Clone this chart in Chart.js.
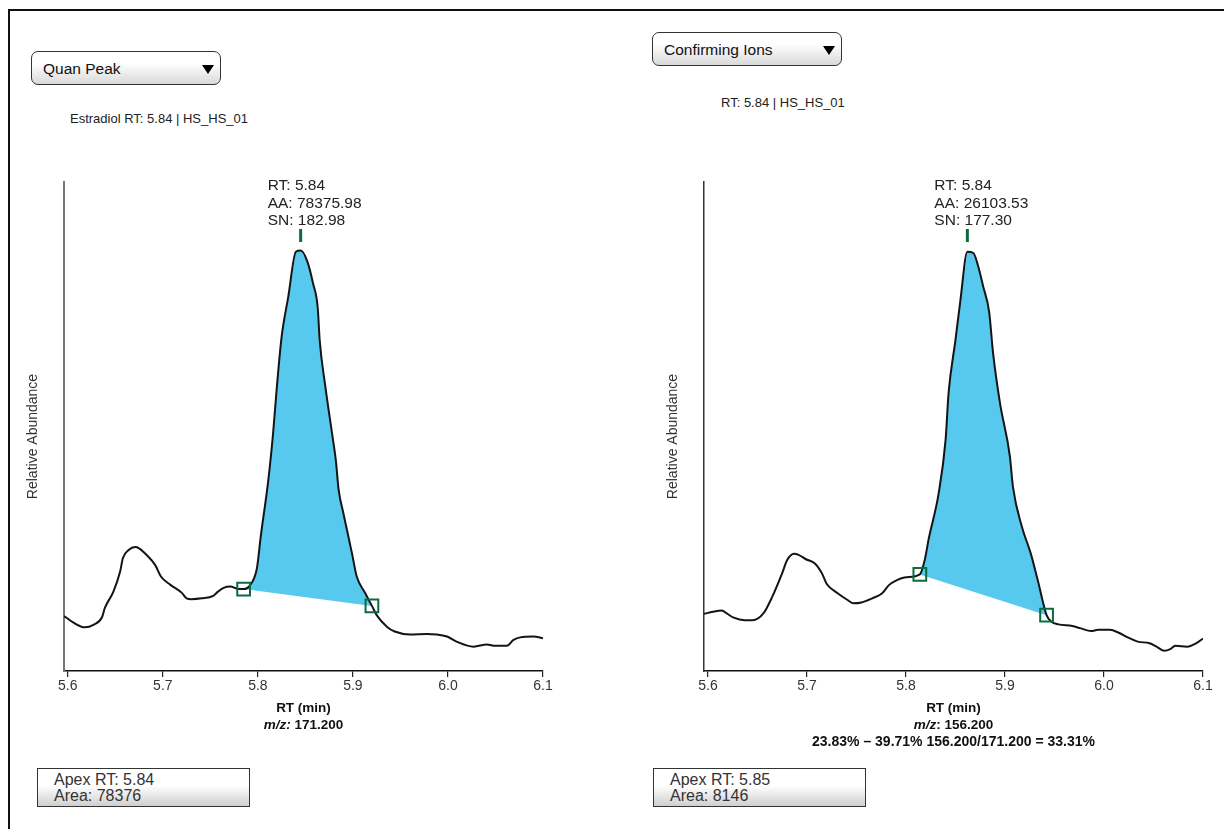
<!DOCTYPE html>
<html>
<head>
<meta charset="utf-8">
<script src="https://cdn.jsdelivr.net/npm/chart.js@4"></script>
<style>
body{margin:0;width:1224px;height:829px;position:relative;overflow:hidden;background:#fff;font-family:"Liberation Sans",Arial,sans-serif;color:#222}
#frame{position:absolute;left:8px;top:9px;right:-4px;bottom:-4px;border-left:2px solid #111;border-top:2px solid #111}
.drop{position:absolute;height:34px;width:190px;border:1px solid #333;border-radius:7px;background:linear-gradient(#fff 35%,#d9d9d9);font-size:15.5px;line-height:33px;padding-left:11px;box-sizing:border-box;color:#111}
.drop .arr{position:absolute;right:6px;top:13px;width:0;height:0;border-left:6px solid transparent;border-right:6px solid transparent;border-top:9px solid #000}
.sub{position:absolute;font-size:13px;color:#222}
.box{position:absolute;width:213px;height:39px;border:1.5px solid #333;background:linear-gradient(#fff 45%,#cfcfcf);box-sizing:border-box;font-size:16px;line-height:16px;padding:2.5px 0 0 16px;color:#333}
.xt{position:absolute;text-align:center;font-size:13.5px;font-weight:bold;line-height:16.5px;color:#111}
.cv{position:absolute;top:150px;height:560px}
</style>
</head>
<body>
<div id="frame"></div>

<div class="drop" style="left:31px;top:51px">Quan Peak<span class="arr"></span></div>
<div class="sub" style="left:70px;top:111px">Estradiol RT: 5.84 | HS_HS_01</div>
<div class="drop" style="left:652px;top:32px">Confirming Ions<span class="arr"></span></div>
<div class="sub" style="left:721px;top:95px">RT: 5.84 | HS_HS_01</div>

<div class="cv" style="left:0;width:600px"><canvas id="quan"></canvas></div>
<div class="cv" style="left:640px;width:584px"><canvas id="conf"></canvas></div>

<div class="xt" style="left:64px;width:479px;top:700px">RT (min)<br><i>m/z:</i> 171.200</div>
<div class="xt" style="left:704px;width:499px;top:700px">RT (min)<br><i>m/z</i>: 156.200<br><span style="font-size:14px">23.83% – 39.71% 156.200/171.200 = 33.31%</span></div>

<div class="box" style="left:37px;top:768px">Apex RT: 5.84<br>Area: 78376</div>
<div class="box" style="left:653px;top:768px">Apex RT: 5.85<br>Area: 8146</div>

<script>
var F = '"Liberation Sans", Arial, sans-serif';
var ticksRT = [5.6, 5.7, 5.8, 5.9, 6.0, 6.1];

// Quan peak, m/z 171.200
var quanRT = [5.596, 5.606, 5.618, 5.627, 5.636, 5.639, 5.648, 5.655, 5.658, 5.664, 5.671, 5.675, 5.683, 5.692, 5.698,
  5.708, 5.720, 5.725, 5.730, 5.741, 5.753, 5.758, 5.764, 5.771, 5.778, 5.785, 5.792, 5.799, 5.803, 5.811, 5.816,
  5.820, 5.825, 5.832, 5.840, 5.845, 5.852, 5.858, 5.863, 5.865, 5.871, 5.878, 5.882, 5.885, 5.890, 5.896, 5.899,
  5.904, 5.913, 5.920, 5.925, 5.936, 5.944, 5.960, 5.978, 5.988, 5.999, 6.009, 6.027, 6.041, 6.050, 6.062, 6.069,
  6.076, 6.090, 6.100];
var quanAb = [13.1, 11.5, 10.4, 11.0, 12.8, 15.0, 18.9, 23.6, 26.9, 28.8, 29.5, 29.2, 27.6, 25.2, 22.5,
  20.5, 18.6, 17.3, 17.1, 17.3, 17.9, 18.9, 19.8, 20.1, 19.6, 19.5, 20.5, 24.5, 32.0, 45.5, 56.6,
  67.7, 79.6, 89.1, 99.8, 100.1, 97.5, 92.3, 86.4, 78.8, 67.7, 56.6, 50.2, 43.1, 37.5, 31.2, 28.0,
  22.5, 18.5, 15.5, 13.3, 10.5, 9.4, 8.7, 8.8, 8.7, 8.2, 7.0, 5.8, 6.3, 6.0, 6.0, 7.4,
  8.0, 8.2, 7.8];
var quanStart = 5.785, quanEnd = 5.920;
var quanLabel = ['RT: 5.84', 'AA: 78375.98', 'SN: 182.98'];

// Confirming ion, m/z 156.200
var confRT = [5.596, 5.605, 5.614, 5.619, 5.626, 5.637, 5.645, 5.656, 5.665, 5.675, 5.680, 5.687, 5.692, 5.699,
  5.708, 5.715, 5.720, 5.731, 5.741, 5.747, 5.755, 5.766, 5.776, 5.783, 5.788, 5.800, 5.814, 5.819, 5.823,
  5.833, 5.840, 5.843, 5.850, 5.855, 5.862, 5.868, 5.873, 5.878, 5.884, 5.888, 5.895, 5.905, 5.908, 5.917,
  5.926, 5.933, 5.942, 5.947, 5.954, 5.968, 5.976, 5.987, 5.994, 6.006, 6.015, 6.024, 6.034, 6.046, 6.053,
  6.061, 6.067, 6.072, 6.084, 6.093, 6.100];
var confAb = [13.6, 14.1, 14.4, 13.7, 12.7, 12.1, 12.1, 13.7, 17.7, 23.3, 26.4, 27.9, 27.6, 26.6,
  25.6, 23.3, 20.7, 18.5, 16.9, 16.1, 16.3, 17.3, 18.5, 20.5, 21.3, 22.3, 23.0, 26.5, 31.5,
  42.3, 55.0, 66.1, 78.8, 88.3, 99.8, 99.5, 96.3, 91.5, 85.5, 75.6, 63.7, 51.0, 43.9, 34.4,
  28.0, 21.7, 13.3, 11.7, 11.1, 10.7, 10.2, 9.5, 9.8, 9.8, 9.1, 8.0, 7.0, 6.6, 5.8,
  4.8, 5.2, 6.0, 5.8, 6.6, 7.7];
var confStart = 5.814, confEnd = 5.942;
var confLabel = ['RT: 5.84', 'AA: 26103.53', 'SN: 177.30'];

function nearest(arr, v) {
  var best = 0;
  arr.forEach(function (a, i) { if (Math.abs(a - v) < Math.abs(arr[best] - v)) best = i; });
  return best;
}

function makeChart(id, rt, ab, startRT, endRT, label, yColor, yWidth, padRight) {
  var pts = rt.map(function (x, i) { return {x: x, y: ab[i]}; });
  var i0 = nearest(rt, startRT), i1 = nearest(rt, endRT);
  var area = pts.slice(i0, i1 + 1).concat([pts[i0]]);
  var apex = pts.reduce(function (a, p) { return p.y > a.y ? p : a; });

  var peakLabel = {
    id: 'peakLabel',
    afterDatasetsDraw: function (chart) {
      var c = chart.ctx, ca = chart.chartArea, top = ca.top;
      var px = chart.scales.x.getPixelForValue(apex.x);
      c.save();
      c.font = '15.5px ' + F;
      c.fillStyle = '#222';
      c.textBaseline = 'middle';
      label.forEach(function (t, i) { c.fillText(t, px - 33, top + 4 + i * 17.5); });
      c.fillStyle = '#0b6b3f';
      c.fillRect(px - 1.5, top + 47, 3, 13);
      // y axis title
      c.translate(ca.left - 31, (ca.top + ca.bottom) / 2 + 10);
      c.rotate(-Math.PI / 2);
      c.font = '14px ' + F;
      c.fillStyle = '#333';
      c.textAlign = 'center';
      c.fillText('Relative Abundance', 0, 0);
      c.restore();
    }
  };

  return new Chart(document.getElementById(id), {
    type: 'scatter',
    data: {
      datasets: [
        {data: pts, showLine: true, borderColor: '#141414', borderWidth: 2, pointRadius: 0,
         cubicInterpolationMode: 'monotone', order: 2},
        {data: area, showLine: true, fill: 'shape', backgroundColor: '#58c9ee', borderWidth: 0,
         borderColor: 'rgba(0,0,0,0)', pointRadius: 0, tension: 0, order: 3},
        {data: [pts[i0], pts[i1]], pointStyle: 'rect', pointRadius: 9, borderWidth: 2,
         borderColor: '#0b6b3f', backgroundColor: 'rgba(0,0,0,0)', order: 1}
      ]
    },
    options: {
      responsive: true,
      maintainAspectRatio: false,
      animation: false,
      events: [],
      layout: {padding: {top: 32, right: padRight, bottom: 0, left: 0}},
      plugins: {legend: {display: false}, tooltip: {enabled: false}},
      scales: {
        x: {
          type: 'linear', min: 5.596, max: 6.1,
          afterBuildTicks: function (s) { s.ticks = ticksRT.map(function (v) { return {value: v}; }); },
          afterFit: function (s) { s.height = 39; },
          ticks: {callback: function (v) { return v.toFixed(1); }, font: {size: 14, family: F}, color: '#333',
                  padding: 1, maxRotation: 0, autoSkip: false},
          grid: {drawOnChartArea: false, drawTicks: true, tickLength: 6, color: '#222', lineWidth: 1.2},
          border: {display: true, color: '#111', width: 1.5}
        },
        y: {
          min: 0, max: 116.4,
          afterFit: function (s) { s.width = 64; },
          ticks: {display: false},
          grid: {display: false},
          border: {display: true, color: yColor, width: yWidth}
        }
      }
    },
    plugins: [peakLabel]
  });
}

makeChart('quan', quanRT, quanAb, quanStart, quanEnd, quanLabel, '#777', 2, 57);
makeChart('conf', confRT, confAb, confStart, confEnd, confLabel, '#333', 1.5, 21);
</script>
</body>
</html>
